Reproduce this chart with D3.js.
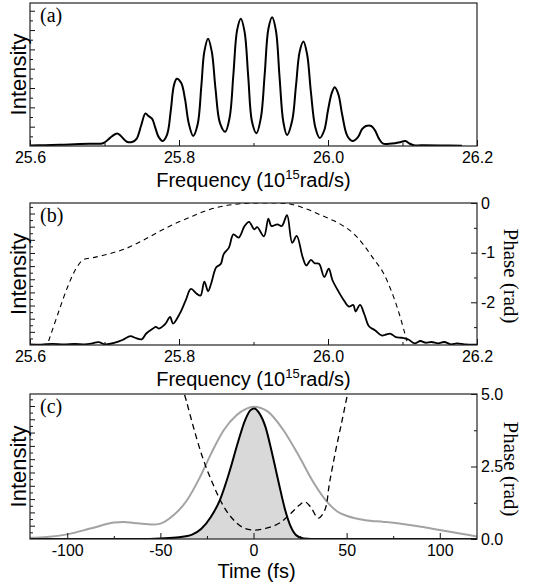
<!DOCTYPE html>
<html><head><meta charset="utf-8">
<script src="https://cdn.jsdelivr.net/npm/d3@7/dist/d3.min.js"></script>
<style>body{margin:0;background:#fff} svg{display:block}</style>
</head><body>
<svg id="chart" width="551" height="585"></svg>
<script>
// ---------- Panel (a): fringe spectrum ----------
const freqA = [25.600,25.620,25.640,25.660,25.680,25.698,25.705,25.710,25.717,25.722,25.730,25.737,25.743,25.749,25.755,25.759,25.764,25.768,25.773,25.778,25.784,25.789,25.793,25.797,25.803,25.808,25.813,25.819,25.825,25.830,25.834,25.839,25.844,25.849,25.855,25.862,25.868,25.873,25.878,25.883,25.888,25.893,25.898,25.904,25.910,25.915,25.920,25.925,25.930,25.935,25.940,25.945,25.952,25.957,25.962,25.967,25.972,25.977,25.983,25.989,25.995,26.000,26.005,26.009,26.014,26.019,26.026,26.033,26.040,26.046,26.051,26.058,26.063,26.068,26.074,26.082,26.090,26.098,26.104,26.109,26.115,26.130,26.150,26.180];
const intA  = [0.003,0.006,0.008,0.012,0.016,0.019,0.045,0.068,0.088,0.070,0.030,0.028,0.050,0.140,0.228,0.210,0.190,0.130,0.060,0.035,0.080,0.250,0.420,0.470,0.440,0.330,0.160,0.070,0.150,0.420,0.660,0.750,0.660,0.400,0.160,0.100,0.200,0.500,0.810,0.890,0.800,0.480,0.170,0.090,0.200,0.500,0.820,0.900,0.810,0.480,0.170,0.077,0.180,0.420,0.660,0.730,0.640,0.380,0.130,0.056,0.110,0.250,0.370,0.410,0.360,0.220,0.070,0.035,0.060,0.120,0.140,0.140,0.110,0.055,0.016,0.016,0.020,0.028,0.035,0.018,0.006,0.005,0.004,0.002];

// ---------- Panel (b): retrieved spectrum and spectral phase ----------
const freqB = [25.600,25.615,25.630,25.645,25.660,25.673,25.682,25.692,25.701,25.714,25.724,25.735,25.741,25.750,25.756,25.765,25.769,25.773,25.782,25.788,25.792,25.801,25.809,25.816,25.824,25.829,25.834,25.839,25.843,25.850,25.856,25.860,25.867,25.873,25.880,25.888,25.894,25.901,25.905,25.914,25.920,25.924,25.932,25.938,25.945,25.952,25.958,25.966,25.971,25.977,25.982,25.988,25.995,26.001,26.006,26.013,26.021,26.028,26.034,26.037,26.043,26.049,26.055,26.063,26.072,26.078,26.084,26.091,26.099,26.108,26.116,26.124,26.131,26.139,26.148,26.156,26.165,26.173,26.185,26.200];
const intB  = [0.005,0.003,0.008,0.004,0.007,0.005,0.010,0.020,0.004,0.016,0.035,0.063,0.051,0.040,0.081,0.116,0.128,0.116,0.151,0.198,0.151,0.221,0.314,0.395,0.360,0.349,0.447,0.379,0.430,0.547,0.570,0.640,0.686,0.779,0.756,0.837,0.867,0.815,0.830,0.765,0.890,0.838,0.850,0.838,0.914,0.720,0.768,0.618,0.560,0.600,0.576,0.572,0.479,0.537,0.456,0.387,0.317,0.271,0.282,0.236,0.282,0.213,0.132,0.104,0.067,0.074,0.079,0.056,0.051,0.039,0.012,0.028,0.016,0.021,0.012,0.021,0.005,0.012,0.004,0.003];
const phaseFreqB = [25.625,25.638,25.651,25.663,25.672,25.685,25.707,25.730,25.752,25.774,25.797,25.819,25.841,25.864,25.886,25.908,25.931,25.949,25.971,25.993,26.016,26.034,26.047,26.060,26.074,26.087,26.096,26.103,26.106];
const phaseB     = [-2.78,-2.21,-1.67,-1.29,-1.14,-1.10,-1.02,-0.91,-0.75,-0.57,-0.40,-0.26,-0.13,-0.05,-0.01,0.00,0.00,-0.02,-0.12,-0.26,-0.42,-0.61,-0.83,-1.10,-1.40,-1.85,-2.25,-2.62,-2.78];

// ---------- Panel (c): temporal intensity and phase ----------
const timeGrey = [-120,-111,-100,-87,-75,-70,-62,-54,-50,-43,-36,-29,-22.5,-16,-9,-4,0,7.5,16,24.5,31.5,38.5,45,50,60,70,80,90,100,110,120];
const intGrey  = [0.008,0.014,0.032,0.074,0.113,0.118,0.108,0.100,0.106,0.163,0.262,0.420,0.596,0.750,0.855,0.897,0.912,0.880,0.752,0.570,0.405,0.272,0.190,0.160,0.130,0.118,0.104,0.085,0.062,0.040,0.018];
const timeBlack = [-120,-60,-50,-40,-33,-28,-23,-18,-13,-8.5,-4.5,-1.5,0.5,3,6.5,10,13.5,17,20,23,27,35,120];
const intBlack  = [0,0,0.004,0.012,0.030,0.070,0.150,0.270,0.460,0.660,0.820,0.890,0.900,0.870,0.770,0.590,0.390,0.200,0.085,0.025,0.004,0,0];
const timePhaseC = [-38.5,-36,-32,-27,-21.5,-16,-11,-5.8,0,7.5,14,20,24.5,27.5,30.5,34.8,38.3,40.8,44.2,47.6,50.5,51.5];
const phaseC     = [5.3,4.75,3.8,2.75,1.85,1.12,0.68,0.40,0.31,0.38,0.55,0.88,1.16,1.28,1.12,0.72,1.0,1.93,3.07,4.10,5.0,5.3];

// ---------- Tick labels ----------
const freqTicks = [25.6,25.8,26.0,26.2];
const freqMinor = [25.7,25.9,26.1];
const timeTicks = [-100,-50,0,50,100];
const timeMinor = [-75,-25,25,75];
const phaseTicksB = [0,-1,-2];
const phaseMinorB = [-0.5,-1.5,-2.5];
const phaseTicksC = [0,2.5,5];
const phaseMinorC = [1.25,3.75];

// ---------- Layout ----------
const svg = d3.select("#chart");
const L = 30, R = 477;
const SANS = "'Liberation Sans', Arial, Helvetica, sans-serif";
const SERIF = "'Liberation Serif', 'Times New Roman', serif";
const P = [{top:3,bottom:146},{top:203,bottom:345},{top:394,bottom:539}];
const loc = d3.formatLocale({decimal:".", thousands:",", grouping:[3], currency:["",""], minus:"-"});
const fmt1 = loc.format(".1f"), fmtD = loc.format("d");

const defs = svg.append("defs");
P.forEach((p,i)=>{
  defs.append("clipPath").attr("id","clip"+i).append("rect")
    .attr("x",L).attr("y",p.top).attr("width",R-L).attr("height",p.bottom-p.top);
});

const xF = d3.scaleLinear().domain([25.6,26.2]).range([L,R]);
const xT = d3.scaleLinear().domain([-120,120]).range([L,R]);
const yA = d3.scaleLinear().domain([0,1]).range([P[0].bottom,P[0].top]);
const yB = d3.scaleLinear().domain([0,1]).range([P[1].bottom,P[1].top]);
const yC = d3.scaleLinear().domain([0,1]).range([P[2].bottom,P[2].top]);
const yPB = d3.scaleLinear().domain([-2.86,0]).range([P[1].bottom,P[1].top]);
const yPC = d3.scaleLinear().domain([0,5]).range([P[2].bottom,P[2].top]);

function styleAxis(g){
  g.select(".domain").remove();
  g.attr("font-family",SANS).attr("font-size",16);
  g.selectAll("text").attr("fill","#000");
  g.selectAll("line").attr("stroke","#111").attr("stroke-width",1);
}
function bottomAxis(scale, y, majors, minors, fmt){
  svg.append("g").attr("transform",`translate(0,${y})`)
    .call(d3.axisBottom(scale).tickValues(majors).tickSize(-6).tickSizeOuter(0).tickPadding(6).tickFormat(fmt))
    .call(styleAxis);
  svg.append("g").attr("transform",`translate(0,${y})`)
    .call(d3.axisBottom(scale).tickValues(minors).tickSize(-3).tickSizeOuter(0).tickFormat(""))
    .call(styleAxis);
}
function leftTicks(scale, x, n){
  const maj = d3.range(0,1.0001,1/n).slice(1);
  const mn = d3.range(0.5/n,1,1/n);
  svg.append("g").attr("transform",`translate(${x},0)`)
    .call(d3.axisLeft(scale).tickValues(maj).tickSize(-5).tickSizeOuter(0).tickFormat(""))
    .call(styleAxis);
  svg.append("g").attr("transform",`translate(${x},0)`)
    .call(d3.axisLeft(scale).tickValues(mn).tickSize(-3).tickSizeOuter(0).tickFormat(""))
    .call(styleAxis);
}
function rightAxis(scale, majors, minors, fmt){
  svg.append("g").attr("transform",`translate(${R},0)`)
    .call(d3.axisRight(scale).tickValues(majors).tickSize(-6).tickSizeOuter(0).tickPadding(4).tickFormat(fmt))
    .call(styleAxis);
  svg.append("g").attr("transform",`translate(${R},0)`)
    .call(d3.axisRight(scale).tickValues(minors).tickSize(-3).tickSizeOuter(0).tickFormat(""))
    .call(styleAxis);
}
function frame(p){
  svg.append("rect").attr("x",L).attr("y",p.top).attr("width",R-L).attr("height",p.bottom-p.top)
    .attr("fill","none").attr("stroke","#222").attr("stroke-width",1.2);
}
function intensityLabel(p){
  svg.append("text").attr("transform",`translate(18,${(p.top+p.bottom)/2}) rotate(-90)`)
    .attr("text-anchor","middle").attr("dominant-baseline","central")
    .attr("font-family",SANS).attr("font-size",22).text("Intensity");
}
function panelLabel(p, s){
  svg.append("text").attr("x",40).attr("y",p.top+19).attr("font-family",SERIF).attr("font-size",20).text(s);
}
function phaseLabel(cy){
  svg.append("text").attr("transform",`translate(504,${cy}) rotate(90)`)
    .attr("text-anchor","middle")
    .attr("font-family",SERIF).attr("font-size",21).text("Phase (rad)");
}
function freqTitle(y){
  const t = svg.append("text").attr("x",(L+R)/2).attr("y",y).attr("text-anchor","middle")
    .attr("font-family",SANS).attr("font-size",20);
  t.append("tspan").text("Frequency (10");
  t.append("tspan").attr("dy",-8).attr("font-size",13).text("15");
  t.append("tspan").attr("dy",8).text("rad/s)");
}

// ---------- Panel (a) ----------
const ptsA = freqA.map((f,i)=>[f,intA[i]]);
svg.append("path").datum(ptsA).attr("clip-path","url(#clip0)")
  .attr("fill","none").attr("stroke","#000").attr("stroke-width",2).attr("stroke-linejoin","round")
  .attr("d", d3.line().x(d=>xF(d[0])).y(d=>yA(d[1])).curve(d3.curveCatmullRom.alpha(0.5)));
leftTicks(yA, L, 7.4);
bottomAxis(xF, P[0].bottom, freqTicks, freqMinor, fmt1);
frame(P[0]);
intensityLabel(P[0]);
panelLabel(P[0],"(a)");
freqTitle(P[0].bottom+41);

// ---------- Panel (b) ----------
const ptsPB = phaseFreqB.map((f,i)=>[f,phaseB[i]]);
svg.append("path").datum(ptsPB).attr("clip-path","url(#clip1)")
  .attr("fill","none").attr("stroke","#000").attr("stroke-width",1.1).attr("stroke-dasharray","5,4")
  .attr("d", d3.line().x(d=>xF(d[0])).y(d=>yPB(d[1])).curve(d3.curveCatmullRom.alpha(0.5)));
const ptsB = freqB.map((f,i)=>[f,intB[i]]);
svg.append("path").datum(ptsB).attr("clip-path","url(#clip1)")
  .attr("fill","none").attr("stroke","#000").attr("stroke-width",1.8).attr("stroke-linejoin","round")
  .attr("d", d3.line().x(d=>xF(d[0])).y(d=>yB(d[1])).curve(d3.curveCatmullRom.alpha(0.5)));
leftTicks(yB, L, 10.8);
bottomAxis(xF, P[1].bottom, freqTicks, freqMinor, fmt1);
rightAxis(yPB, phaseTicksB, phaseMinorB, fmtD);
frame(P[1]);
intensityLabel(P[1]);
panelLabel(P[1],"(b)");
phaseLabel(276);
freqTitle(P[1].bottom+41);

// ---------- Panel (c) ----------
const ptsBlack = timeBlack.map((t,i)=>[t,intBlack[i]]);
svg.append("path").datum(ptsBlack).attr("clip-path","url(#clip2)")
  .attr("fill","#d9d9d9").attr("stroke","none")
  .attr("d", d3.area().x(d=>xT(d[0])).y0(yC(0)).y1(d=>yC(d[1])).curve(d3.curveMonotoneX));
const ptsGrey = timeGrey.map((t,i)=>[t,intGrey[i]]);
svg.append("path").datum(ptsGrey).attr("clip-path","url(#clip2)")
  .attr("fill","none").attr("stroke","#a3a3a3").attr("stroke-width",2)
  .attr("d", d3.line().x(d=>xT(d[0])).y(d=>yC(d[1])).curve(d3.curveMonotoneX));
const ptsPC = timePhaseC.map((t,i)=>[t,phaseC[i]]);
svg.append("path").datum(ptsPC).attr("clip-path","url(#clip2)")
  .attr("fill","none").attr("stroke","#000").attr("stroke-width",1.3).attr("stroke-dasharray","6,4")
  .attr("d", d3.line().x(d=>xT(d[0])).y(d=>yPC(d[1])).curve(d3.curveCatmullRom.alpha(0.5)));
svg.append("path").datum(ptsBlack).attr("clip-path","url(#clip2)")
  .attr("fill","none").attr("stroke","#000").attr("stroke-width",2)
  .attr("d", d3.line().x(d=>xT(d[0])).y(d=>yC(d[1])).curve(d3.curveMonotoneX));
leftTicks(yC, L, 10.9);
bottomAxis(xT, P[2].bottom, timeTicks, timeMinor, fmtD);
rightAxis(yPC, phaseTicksC, phaseMinorC, fmt1);
frame(P[2]);
intensityLabel(P[2]);
panelLabel(P[2],"(c)");
phaseLabel(469);
svg.append("text").attr("x",(L+R)/2+3).attr("y",P[2].bottom+39).attr("text-anchor","middle")
  .attr("font-family",SANS).attr("font-size",20).text("Time (fs)");
</script>
</body></html>
